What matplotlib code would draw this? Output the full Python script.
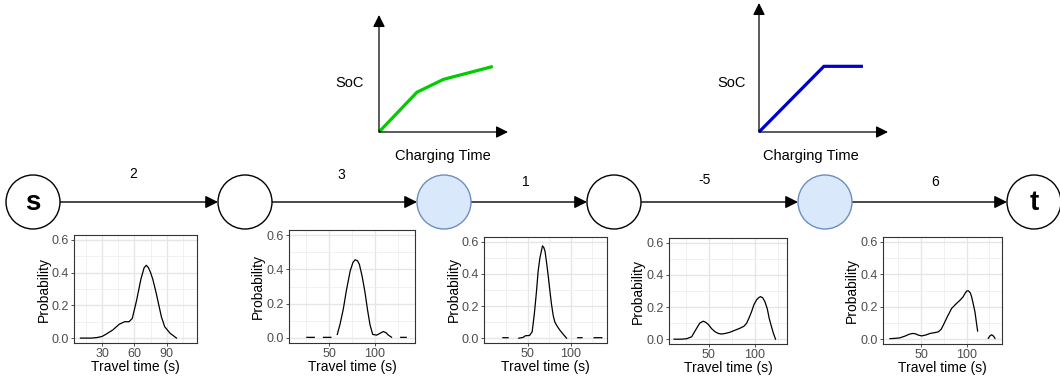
import numpy as np
import matplotlib
matplotlib.use("Agg")
import matplotlib.pyplot as plt
from matplotlib.patches import Circle
from matplotlib.ticker import FixedLocator

plt.rcParams['font.family'] = ['Liberation Sans', 'DejaVu Sans']

W, H = 1060, 378

# ---------------- data ----------------
edge_weights = ["2", "3", "1", "-5", "6"]
node_labels = ["s", "", "", "", "", "t"]
node_is_charger = [False, False, True, False, True, False]

# charging curves (SoC vs charging time)
charge_time_concave = [0, 1.0, 1.7, 3.0]
soc_concave = [0, 0.34, 0.45, 0.56]
charge_time_linear = [0, 1.71, 2.74]
soc_linear = [0, 0.56, 0.56]

# travel-time densities (NaN = gap)
tt1_x = [10, 20, 25, 30, 34, 40, 46, 51, 55, 58, 62, 66, 69, 71, 73, 75, 77, 80, 82, 85, 88, 93, 99]
tt1_p = [0, 0, 0.003, 0.01, 0.025, 0.05, 0.085, 0.1, 0.1, 0.12, 0.23, 0.36, 0.43, 0.445, 0.43, 0.4, 0.36, 0.28, 0.22, 0.13, 0.07, 0.03, 0.0]

tt2_x = [26, 34, np.nan, 44, 52, np.nan, 59, 62, 65.6, 69, 73, 76, 78.4, 81, 83, 86, 89, 92, 94.6, 97.5, 101.8, 105, 109, 112, 114.5, 118, np.nan, 128, 134]
tt2_p = [0.003, 0.003, np.nan, 0.003, 0.003, np.nan, 0.02, 0.08, 0.17, 0.28, 0.39, 0.44, 0.456, 0.45, 0.43, 0.36, 0.27, 0.16, 0.076, 0.02, 0.016, 0.025, 0.037, 0.03, 0.016, 0.004, np.nan, 0.003, 0.003]

tt3_x = [21, 27, np.nan, 39.5, 44.6, 47, 52, 55, 57.5, 60, 62, 64, 66, 67, 68.5, 70, 72, 73.6, 75.5, 77.5, 79.5, 81.4, 84, 87.2, 91, 95, np.nan, 108, 113, np.nan, 127, 136]
tt3_p = [0.003, 0.003, np.nan, 0.0, 0.005, 0.015, 0.017, 0.04, 0.15, 0.29, 0.42, 0.5, 0.55, 0.575, 0.565, 0.54, 0.46, 0.39, 0.3, 0.21, 0.14, 0.1, 0.075, 0.05, 0.025, 0.0, np.nan, 0.003, 0.003, np.nan, 0.003, 0.003]

tt4_x = [12, 20, 25.8, 31.2, 36.6, 40, 43.8, 46.5, 49.3, 53, 56.5, 60, 63.8, 68, 72.8, 78, 83.7, 88, 91, 93.5, 96.4, 99, 101.8, 104, 106.2, 108.5, 110.9, 113.5, 115.6, 118, 120, 122.5]
tt4_p = [0, 0.0, 0.003, 0.015, 0.068, 0.1, 0.112, 0.105, 0.092, 0.065, 0.047, 0.036, 0.032, 0.036, 0.043, 0.055, 0.068, 0.08, 0.099, 0.13, 0.171, 0.215, 0.244, 0.258, 0.265, 0.258, 0.234, 0.19, 0.13, 0.08, 0.04, 0.0]

tt5_x = [16, 22, 27, 33, 37, 40.9, 44, 47, 50.7, 55, 59.9, 65, 69, 72, 74.4, 79, 83.6, 88, 92.7, 96, 98.5, 100.5, 102, 104, 105.5, 107.5, 109.1, 110.5, 112, np.nan, 123.7, 125.5, 127.4, 129.5, 131]
tt5_p = [0.003, 0.005, 0.008, 0.02, 0.03, 0.035, 0.033, 0.025, 0.02, 0.025, 0.035, 0.04, 0.045, 0.06, 0.086, 0.14, 0.19, 0.215, 0.24, 0.26, 0.285, 0.298, 0.298, 0.285, 0.26, 0.21, 0.168, 0.11, 0.05, np.nan, 0.005, 0.02, 0.027, 0.018, 0.005]

tt_x = [tt1_x, tt2_x, tt3_x, tt4_x, tt5_x]
tt_p = [tt1_p, tt2_p, tt3_p, tt4_p, tt5_p]
x_ticks = [[30, 60, 90], [50, 100], [50, 100], [50, 100], [50, 100]]
y_ticks = [0.0, 0.2, 0.4, 0.6]
y_tick_labels = ['0.0', '0.2', '0.4', '0.6']

# ---------------- layout (pixels) ----------------
node_cx = [33, 245, 444, 614, 825, 1034]
node_cy = 202
node_r = 27
edge_label_xy = [(133, 174), (341, 175), (526, 182), (705, 180), (935, 182)]
panel_px = [(74, 235, 197, 343), (289, 230, 415, 343), (484, 237, 607, 343),
            (669, 238, 787, 344), (883, 237, 1002, 344)]
panel_xlim = [(4, 118), (6.5, 143.5), (-1, 142), (6.5, 135), (8.4, 138.7)]

fig = plt.figure(figsize=(W / 100, H / 100), dpi=100)
fig.patch.set_facecolor('white')

# overlay for the graph diagram
ov = fig.add_axes([0, 0, 1, 1])
ov.set_xlim(0, W)
ov.set_ylim(H, 0)
ov.axis('off')

for i, (cx, lab, chg) in enumerate(zip(node_cx, node_labels, node_is_charger)):
    if chg:
        fc, ec = '#dae8fc', '#6c8ebf'
    else:
        fc, ec = 'white', 'black'
    ov.add_patch(Circle((cx, node_cy), node_r, facecolor=fc, edgecolor=ec, lw=1.0, zorder=3))
    if lab:
        ov.text(cx, node_cy + 1, lab, ha='center', va='center', fontsize=20,
                fontweight='bold', zorder=4)

for i, w in enumerate(edge_weights):
    x0 = node_cx[i] + node_r
    x1 = node_cx[i + 1] - node_r
    ov.annotate('', xy=(x1, node_cy), xytext=(x0, node_cy),
                arrowprops=dict(arrowstyle='-|>', mutation_scale=19, lw=1.0,
                                color='black', shrinkA=0, shrinkB=0), zorder=2)
    lx, ly = edge_label_xy[i]
    ov.text(lx, ly, w, ha='center', va='center', fontsize=10)

# SoC insets
def soc_inset(origin, width, height, t, soc, ylim, color, soc_xy, ct_xy):
    ox, oy = origin
    ax = fig.add_axes([ox / W, (H - oy) / H, width / W, height / H])
    ax.set_xlim(0, 3.4)
    ax.set_ylim(0, ylim)
    ax.axis('off')
    ax.patch.set_alpha(0)
    ax.plot(t, soc, color=color, lw=2.3, solid_capstyle='butt', clip_on=False, zorder=3)
    ap = dict(arrowstyle='-|>', mutation_scale=18, lw=0.9, color='black', shrinkA=0, shrinkB=0)
    ax.annotate('', xy=(1, 0), xytext=(0, 0), xycoords='axes fraction', arrowprops=ap)
    ax.annotate('', xy=(0, 1), xytext=(0, 0), xycoords='axes fraction', arrowprops=ap)
    ov.text(soc_xy[0], soc_xy[1], 'SoC', ha='center', va='center', fontsize=10.5)
    ov.text(ct_xy[0], ct_xy[1], 'Charging Time', ha='center', va='center', fontsize=10.5)

soc_inset((379, 132), 129, 117, charge_time_concave, soc_concave, 1.0, '#00CC00', (350, 83), (443, 156))
soc_inset((759, 132), 129, 129, charge_time_linear, soc_linear, 1.10, '#0000CC', (732, 83), (811, 156))

# density panels
for k in range(5):
    l, t, r, b = panel_px[k]
    ax = fig.add_axes([l / W, (H - b) / H, (r - l) / W, (b - t) / H])
    ax.plot(tt_x[k], tt_p[k], color='black', lw=0.9)
    ax.set_xlim(*panel_xlim[k])
    ax.set_ylim(-0.03, 0.63)
    xt = x_ticks[k]
    step = xt[1] - xt[0]
    ax.xaxis.set_major_locator(FixedLocator(xt))
    ax.yaxis.set_major_locator(FixedLocator(y_ticks))
    xmin = np.arange(xt[0] - step / 2 - 4 * step, xt[-1] + 4 * step, step)
    ax.xaxis.set_minor_locator(FixedLocator(list(xmin)))
    ax.yaxis.set_minor_locator(FixedLocator([0.1, 0.3, 0.5]))
    ax.set_yticklabels(y_tick_labels)
    ax.set_axisbelow(True)
    ax.grid(which='major', color='#E6E6E6', lw=1.0)
    ax.grid(which='minor', color='#EFEFEF', lw=0.6)
    ax.tick_params(which='major', length=2.5, width=0.6, color='#333333',
                   labelcolor='#4D4D4D', labelsize=9, pad=1.0)
    ax.tick_params(which='minor', length=0)
    for s in ax.spines.values():
        s.set_color('#333333')
        s.set_linewidth(0.8)
    ax.set_xlabel('Travel time (s)', fontsize=10, labelpad=0.0)
    ax.set_ylabel('Probability', fontsize=10, labelpad=1.0)

fig.savefig('out.png', dpi=100, facecolor='white')
